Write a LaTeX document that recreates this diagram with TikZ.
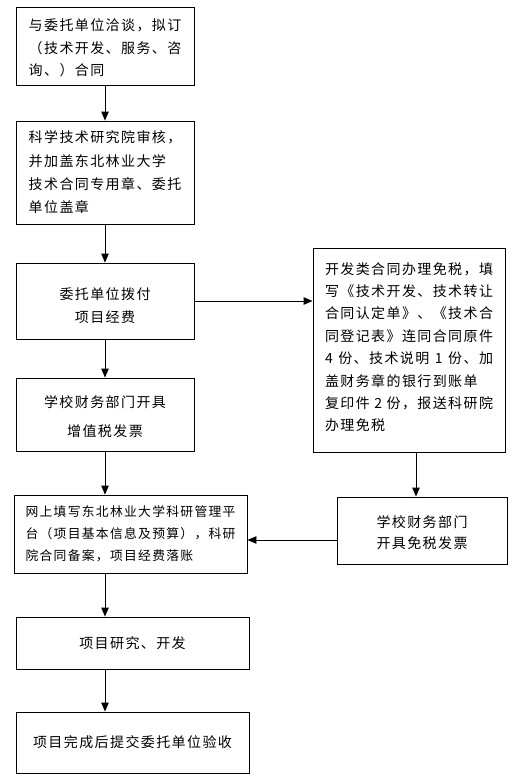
\documentclass[tikz,border=0pt]{standalone}
\usepackage{fontspec}
\usepackage{calc}
\usetikzlibrary{arrows.meta}
\newfontfamily\cjk[LetterSpace=10]{Noto Sans CJK SC}
\XeTeXlinebreaklocale "zh"
\XeTeXlinebreakskip=0pt plus 12pt
\newcommand\jline[2]{\makebox[\widthof{#1}][s]{#2}}
\newcommand\upstrut[1]{\rule{0pt}{#1}}
\newcommand\downstrut[1]{\rule[-#1]{0pt}{0pt}}
\tikzset{
  box/.style={draw, line width=0.9pt, inner sep=0pt, align=left,
    font={\cjk\fontsize{14pt}{22.5pt}\selectfont}},
  arr/.style={line width=0.9pt, -{Triangle[length=9pt,width=7.5pt]}}
}
\begin{document}
\begin{tikzpicture}[x=1pt,y=-1pt]
\useasboundingbox (0,0) rectangle (522,784);
\node[box, minimum width=178pt, minimum height=78pt] (b1) at (105,46)
  {\upstrut{16pt}与委托单位洽谈，拟订\\（技术开发、服务、咨\\询、）合同};
\node[box, minimum width=178pt, minimum height=103pt,
  font={\cjk\fontsize{14pt}{23.3pt}\selectfont}] (b2) at (105,172.5)
  {科学技术研究院审核，\\\jline{科学技术研究院审核，}{并加盖东北林业大学}\\技术合同专用章、委托\\单位盖章};
\node[box, minimum width=178pt, minimum height=76pt, align=center,
  font={\cjk\fontsize{14pt}{23pt}\selectfont}] (b3) at (105,301)
  {\upstrut{22pt}委托单位拨付\\项目经费};
\node[box, minimum width=178pt, minimum height=73pt, align=center,
  font={\cjk\fontsize{14pt}{29pt}\selectfont}] (b4) at (105,414.5)
  {\upstrut{17pt}学校财务部门开具\\增值税发票};
\node[box, minimum width=192pt, minimum height=204pt,
  font={\cjk\fontsize{14pt}{22.4pt}\selectfont}] (r1) at (409,350)
  {开发类合同办理免税，填\\写《技术开发、技术转让\\合同认定单》、《技术合\\同登记表》连同合同原件\\\jline{开发类合同办理免税，填}{4 份、技术说明 1 份、加}\\\jline{开发类合同办理免税，填}{盖财务章的银行到账单}\\\jline{开发类合同办理免税，填}{复印件 2 份，报送科研院}\\办理免税\downstrut{7pt}};
\node[box, minimum width=233pt, minimum height=78pt,
  font={\cjk\fontsize{12.8pt}{22pt}\selectfont}] (b5) at (130.5,534)
  {网上填写东北林业大学科研管理平\\台（项目基本信息及预算），科研\\院合同备案，项目经费落账};
\node[box, minimum width=170pt, minimum height=67pt, align=center,
  font={\cjk\fontsize{14pt}{21.5pt}\selectfont}] (r2) at (422,530.5)
  {\upstrut{16pt}学校财务部门\\开具免税发票};
\node[box, minimum width=233pt, minimum height=52pt] (b7) at (132.5,643)
  {项目研究、开发};
\node[box, minimum width=233pt, minimum height=61pt] (b8) at (132.5,742.5)
  {项目完成后提交委托单位验收};
\draw[arr] (b1.south) -- (b2.north);
\draw[arr] (b2.south) -- (b3.north);
\draw[arr] (b3.south) -- (b4.north);
\draw[arr] (b4.south) -- (b4.south |- b5.north);
\draw[arr] (b3.east) -- (b3.east -| r1.west);
\draw[arr] ([xshift=7pt]r1.south) -- ([xshift=7pt]r1.south |- r2.north);
\draw[arr] ([yshift=-9.5pt]r2.west) -- ([yshift=-9.5pt]r2.west -| b5.east);
\draw[arr] (b4.south |- b5.south) -- (b4.south |- b7.north);
\draw[arr] (b4.south |- b7.south) -- (b4.south |- b8.north);
\end{tikzpicture}
\end{document}
